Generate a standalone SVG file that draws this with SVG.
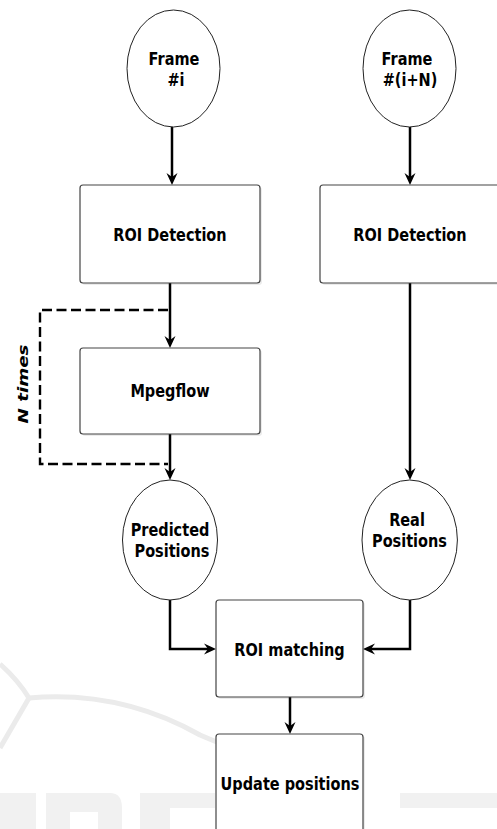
<svg xmlns="http://www.w3.org/2000/svg" width="497" height="829" viewBox="0 0 497 829">
<style>
.lbl{font-family:"DejaVu Sans","Verdana",sans-serif;font-weight:bold;font-size:14.5px;fill:#000;text-anchor:middle}
.box{fill:#fff;stroke:#444;stroke-width:1.2}
.shadow{fill:#000;opacity:0.08}
.ell{fill:#fff;stroke:#222;stroke-width:1}
.conn{fill:none;stroke:#000;stroke-width:2.5}
.dash{fill:none;stroke:#000;stroke-width:2.4;stroke-dasharray:10 4.5}
.wm{fill:none;stroke:#ebebeb;stroke-width:5}
.wmf{fill:#f1f1f1}
</style>
<defs>
<marker id="arr" viewBox="0 -6 14 12" markerWidth="14" markerHeight="12" refX="4" refY="0" orient="auto" markerUnits="userSpaceOnUse">
<path d="M0,-5.5 L12,0 L0,5.5 L4,0 Z" fill="#000"/>
</marker>
</defs>
<rect width="497" height="829" fill="#fff"/>
<g id="watermark">
<path class="wm" d="M0,664 Q18,680 29,698 Q120,690 200,735 Q230,748 247,752 L234,780"/>
<path class="wm" d="M29,698 L0,748"/>
<path class="wmf" d="M0,793 H36 V829 H0 Z"/>
<path class="wmf" d="M46,793 H110 Q122,793 122,808 V829 H98 V812 H70 V829 H46 Z"/>
<path class="wmf" d="M140,793 H215 V808 H170 V829 H140 Z"/>
<path class="wmf" d="M296,793 H363 V808 H296 Z"/>
<path class="wmf" d="M296,816 H363 V829 H296 Z"/>
<path class="wmf" d="M400,793 H497 V808 H400 Z"/>
</g>
<g id="connectors">
<path class="conn" d="M172,127 V177" marker-end="url(#arr)"/>
<path class="conn" d="M410,127 V177" marker-end="url(#arr)"/>
<path class="conn" d="M170,283 V340" marker-end="url(#arr)"/>
<path class="conn" d="M170,434 V472" marker-end="url(#arr)"/>
<path class="conn" d="M410,283 V472" marker-end="url(#arr)"/>
<path class="conn" d="M170,600 V649 H208" marker-end="url(#arr)"/>
<path class="conn" d="M410,600 V649 H371" marker-end="url(#arr)"/>
<path class="conn" d="M290,697 V726" marker-end="url(#arr)"/>
<path class="dash" d="M168,310 H40 V464 H168"/>
</g>
<g id="frame-i">
<ellipse class="ell" cx="173.5" cy="68.5" rx="46.5" ry="58.5"/>
<text class="lbl" transform="translate(174,65) scale(1,1.26)">Frame</text>
<text class="lbl" transform="translate(176,86) scale(1,1.26)">#i</text>
</g>
<g id="frame-iN">
<ellipse class="ell" cx="409.5" cy="68.5" rx="46.5" ry="58.5"/>
<text class="lbl" transform="translate(407,65) scale(1,1.26)">Frame</text>
<text class="lbl" transform="translate(410,86) scale(1,1.26)">#(i+N)</text>
</g>
<g id="roi-detection-1">
<rect class="shadow" x="82" y="187" width="180" height="98" rx="3"/>
<rect class="box" x="80" y="185" width="180" height="98" rx="3"/>
<text class="lbl" transform="translate(170,241) scale(1,1.26)">ROI Detection</text>
</g>
<g id="roi-detection-2">
<rect class="shadow" x="322" y="187" width="182" height="98" rx="3"/>
<rect class="box" x="320" y="185" width="182" height="98" rx="3"/>
<text class="lbl" transform="translate(410,241) scale(1,1.26)">ROI Detection</text>
</g>
<g id="mpegflow">
<rect class="shadow" x="82" y="350" width="180" height="86" rx="3"/>
<rect class="box" x="80" y="348" width="180" height="86" rx="3"/>
<text class="lbl" transform="translate(170,397) scale(1,1.26)">Mpegflow</text>
</g>
<g id="n-times">
<text class="lbl" style="font-style:italic" transform="translate(28,384) scale(1,1.26) rotate(-90)">N times</text>
</g>
<g id="predicted-positions">
<ellipse class="ell" cx="170" cy="540" rx="47.5" ry="60"/>
<text class="lbl" transform="translate(170,536) scale(1,1.26)">Predicted</text>
<text class="lbl" transform="translate(172,557) scale(1,1.26)">Positions</text>
</g>
<g id="real-positions">
<ellipse class="ell" cx="409.7" cy="540" rx="47.7" ry="60"/>
<text class="lbl" transform="translate(407,526) scale(1,1.26)">Real</text>
<text class="lbl" transform="translate(409.5,547) scale(1,1.26)">Positions</text>
</g>
<g id="roi-matching">
<rect class="shadow" x="218" y="602" width="147" height="97" rx="3"/>
<rect class="box" x="216" y="600" width="147" height="97" rx="3"/>
<text class="lbl" transform="translate(289.5,656) scale(1,1.26)">ROI matching</text>
</g>
<g id="update-positions">
<rect class="shadow" x="218" y="736" width="147" height="110" rx="3"/>
<rect class="box" x="216" y="734" width="147" height="110" rx="3"/>
<text class="lbl" transform="translate(290,790) scale(1,1.26)">Update positions</text>
</g>
</svg>
